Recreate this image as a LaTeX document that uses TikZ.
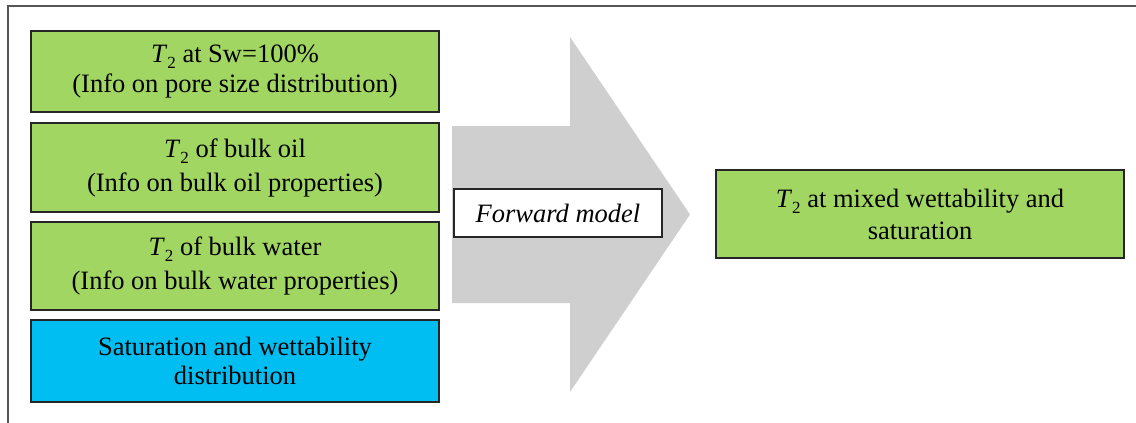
\documentclass[tikz,border=0pt]{standalone}
\usepackage{fontspec}
\setmainfont{Liberation Serif}
\definecolor{boxgreen}{HTML}{A1D662}
\definecolor{boxblue}{HTML}{00BEF2}
\definecolor{arrowgray}{HTML}{CFCFCF}
\definecolor{framegray}{HTML}{555555}
\newcommand{\Ttwo}{\textit{T}\raisebox{-6pt}{\fontsize{17}{17}\selectfont 2}}
\begin{document}
\begin{tikzpicture}[x=1pt,y=-1pt,
  inbox/.style={draw=black!85, line width=1.2pt, rectangle, align=center,
    font=\fontsize{26.5}{29}\selectfont, inner sep=0pt},
  greenbox/.style={inbox, fill=boxgreen},
  bluebox/.style={inbox, fill=boxblue},
  modelbox/.style={inbox, fill=white, font=\fontsize{26.5}{29}\selectfont\itshape}]
\useasboundingbox (0,0) rectangle (1136,423);
% frame
\draw[framegray, line width=2pt] (8,423) -- (8,6) -- (1136,6);
% big arrow
\fill[arrowgray] (452,126) -- (570,126) -- (570,37) -- (690,214.5) -- (570,392) -- (570,303) -- (452,303) -- cycle;
% input boxes
\node[greenbox, minimum width=408pt, minimum height=81pt] (sw) at (235,71.5)
  {\Ttwo{} at Sw=100\%\\[1pt](Info on pore size distribution)};
\node[greenbox, minimum width=408pt, minimum height=89pt] (oil) at (235,167.5)
  {\Ttwo{} of bulk oil\\[5pt](Info on bulk oil properties)};
\node[greenbox, minimum width=408pt, minimum height=88pt] (water) at (235,266)
  {\Ttwo{} of bulk water\\[5pt](Info on bulk water properties)};
\node[bluebox, minimum width=408pt, minimum height=82pt] (sat) at (235,361)
  {Saturation and wettability\\distribution};
% forward model
\node[modelbox, minimum width=208pt, minimum height=48pt] (fm) at (558,213) {Forward model};
% output
\node[greenbox, minimum width=408pt, minimum height=88pt] (out) at (920,214)
  {\Ttwo{} at mixed wettability and\\[3pt]saturation};
\end{tikzpicture}
\end{document}
